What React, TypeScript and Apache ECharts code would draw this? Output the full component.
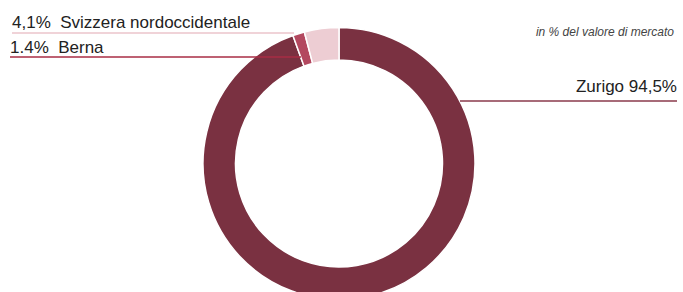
import React, { useEffect, useRef } from "react";
import * as echarts from "echarts";

const categories = ["Zurigo", "Berna", "Svizzera nordoccidentale"];
const values = [94.5, 1.4, 4.1];
const valueLabels = ["94,5%", "1.4%", "4,1%"];
const sliceColors = ["#7a3141", "#b3485f", "#edcdd3"];
const lineColors = ["#8a3a4b", "#a82c45", "#ebc4cb"];
const subtitle = "in % del valore di mercato";

export default function App() {
  const ref = useRef<HTMLDivElement>(null);
  useEffect(() => {
    if (!ref.current) return;
    const chart = echarts.init(ref.current, null, { renderer: "svg" });
    const layouts: any[] = [
      { x: 677, y: 86, align: "right", verticalAlign: "middle", labelLinePoints: [[460, 101], [570, 101], [677, 101]] },
      { x: 10, y: 47.5, align: "left", verticalAlign: "middle", labelLinePoints: [[301, 57], [150, 57], [10, 57]] },
      { x: 12, y: 22.5, align: "left", verticalAlign: "middle", labelLinePoints: [[294, 33], [150, 33], [12, 33]] },
    ];
    const common = {
      type: "pie",
      center: [339, 163.5],
      radius: [103.5, 136],
      startAngle: 90,
      clockwise: true,
      avoidLabelOverlap: false,
    };
    chart.setOption({
      animation: false,
      backgroundColor: "#ffffff",
      title: {
        text: subtitle,
        right: 4,
        top: 21,
        textStyle: {
          fontFamily: "Liberation Sans, Arial, sans-serif",
          fontStyle: "italic",
          fontWeight: "normal",
          fontSize: 12,
          color: "#444444",
        },
      },
      series: [
        {
          ...common,
          z: 2,
          itemStyle: { borderColor: "#ffffff", borderWidth: 1.5 },
          label: { show: false },
          labelLine: { show: false },
          data: categories.map((name, i) => ({
            name,
            value: values[i],
            itemStyle: { color: sliceColors[i] },
          })),
        },
        {
          ...common,
          z: 5,
          silent: true,
          itemStyle: { color: "rgba(0,0,0,0)", borderWidth: 0 },
          label: {
            show: true,
            fontFamily: "Liberation Sans, Arial, sans-serif",
            fontSize: 17,
            color: "#222222",
          },
          labelLine: { show: true, smooth: false, lineStyle: { width: 1.5 } },
          labelLayout: (params: any) => layouts[params.dataIndex],
          data: categories.map((name, i) => ({
            name,
            value: values[i],
            labelLine: { lineStyle: { color: lineColors[i] } },
            label: {
              formatter: i === 0 ? `${name} ${valueLabels[i]}` : `${valueLabels[i]}  ${name}`,
            },
          })),
        },
      ],
    });
    return () => chart.dispose();
  }, []);
  return (
    <div
      ref={ref}
      style={{ position: "fixed", left: 0, top: 0, width: 683, height: 292 }}
    />
  );
}
